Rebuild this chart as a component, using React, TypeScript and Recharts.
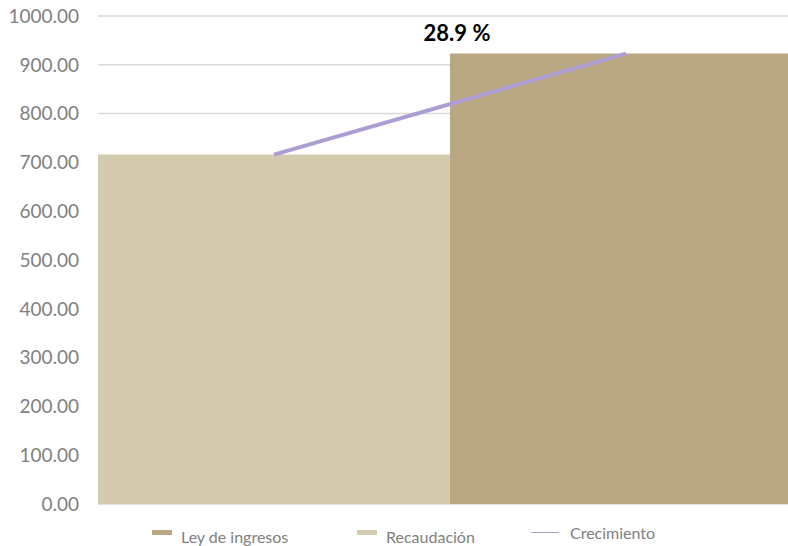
import { ComposedChart, Bar, Line, XAxis, YAxis, CartesianGrid, LabelList } from 'recharts';

// values (millions)
const categories = ['Recaudación', 'Ley de ingresos'];
const recaudacion = [716, null];
const leyIngresos = [null, 923];
const crecimiento = [716, 923];
const yTicks = [0, 100, 200, 300, 400, 500, 600, 700, 800, 900, 1000];

const LIGHT = '#D4CAAE';
const DARK = '#B9A882';
const PURPLE = '#AC9ED3';

const legendItems = [
  { name: 'Ley de ingresos', color: DARK, kind: 'rect' },
  { name: 'Recaudación', color: LIGHT, kind: 'rect' },
  { name: 'Crecimiento', color: PURPLE, kind: 'line' },
];

const data = categories.map((name, i) => ({
  name,
  recaudacion: recaudacion[i],
  ley: leyIngresos[i],
  crecimiento: crecimiento[i],
}));

const growth = ((crecimiento[1] / crecimiento[0] - 1) * 100).toFixed(1) + ' %';

// legend slot left edges, px
const slotLeft = [152, 357, 531];

export default function App() {
  return (
    <div style={{ position: 'absolute', left: 0, top: 0, width: 788, height: 546, overflow: 'hidden', background: '#fff', fontFamily: 'Lato' }}>
      <ComposedChart width={802} height={546} data={data} barCategoryGap={0} margin={{ top: 16, right: 0, bottom: 42, left: 0 }}>
        <CartesianGrid vertical={false} stroke="#D9D9D9" strokeWidth={1.5} />
        <XAxis dataKey="name" hide />
        <YAxis
          type="number"
          domain={[0, 1000]}
          ticks={yTicks}
          width={98}
          axisLine={false}
          tickLine={false}
          tickSize={0}
          tickMargin={19}
          tickFormatter={(v: number) => v.toFixed(2)}
          tick={{ fill: '#808080', fontSize: 19, fontFamily: 'Lato' }}
        />
        <Bar dataKey="recaudacion" stackId="a" fill={LIGHT} isAnimationActive={false} />
        <Bar dataKey="ley" stackId="a" fill={DARK} isAnimationActive={false}>
          <LabelList
            dataKey="ley"
            content={(p: any) =>
              p.value == null ? null : (
                <text x={p.x + 7} y={p.y - 13} textAnchor="middle" fontSize={22} fontWeight="bold" fontFamily="Lato" fill="#000">
                  {growth}
                </text>
              )
            }
          />
        </Bar>
        <Line dataKey="crecimiento" stroke={PURPLE} strokeWidth={4} dot={false} activeDot={false} isAnimationActive={false} />
      </ComposedChart>
      {legendItems.map((it, i) => (
        <div
          key={it.name}
          style={{ position: 'absolute', left: slotLeft[i], top: it.kind === 'line' ? 523 : 527, display: 'flex', alignItems: 'center', fontSize: 16, color: '#808080' }}
        >
          {it.kind === 'rect' ? (
            <span style={{ width: 20, height: 5, background: it.color, marginRight: 9, marginTop: -9 }} />
          ) : (
            <span style={{ width: 28, height: 1, background: it.color, marginRight: 11, marginTop: -1 }} />
          )}
          <span>{it.name}</span>
        </div>
      ))}
    </div>
  );
}
